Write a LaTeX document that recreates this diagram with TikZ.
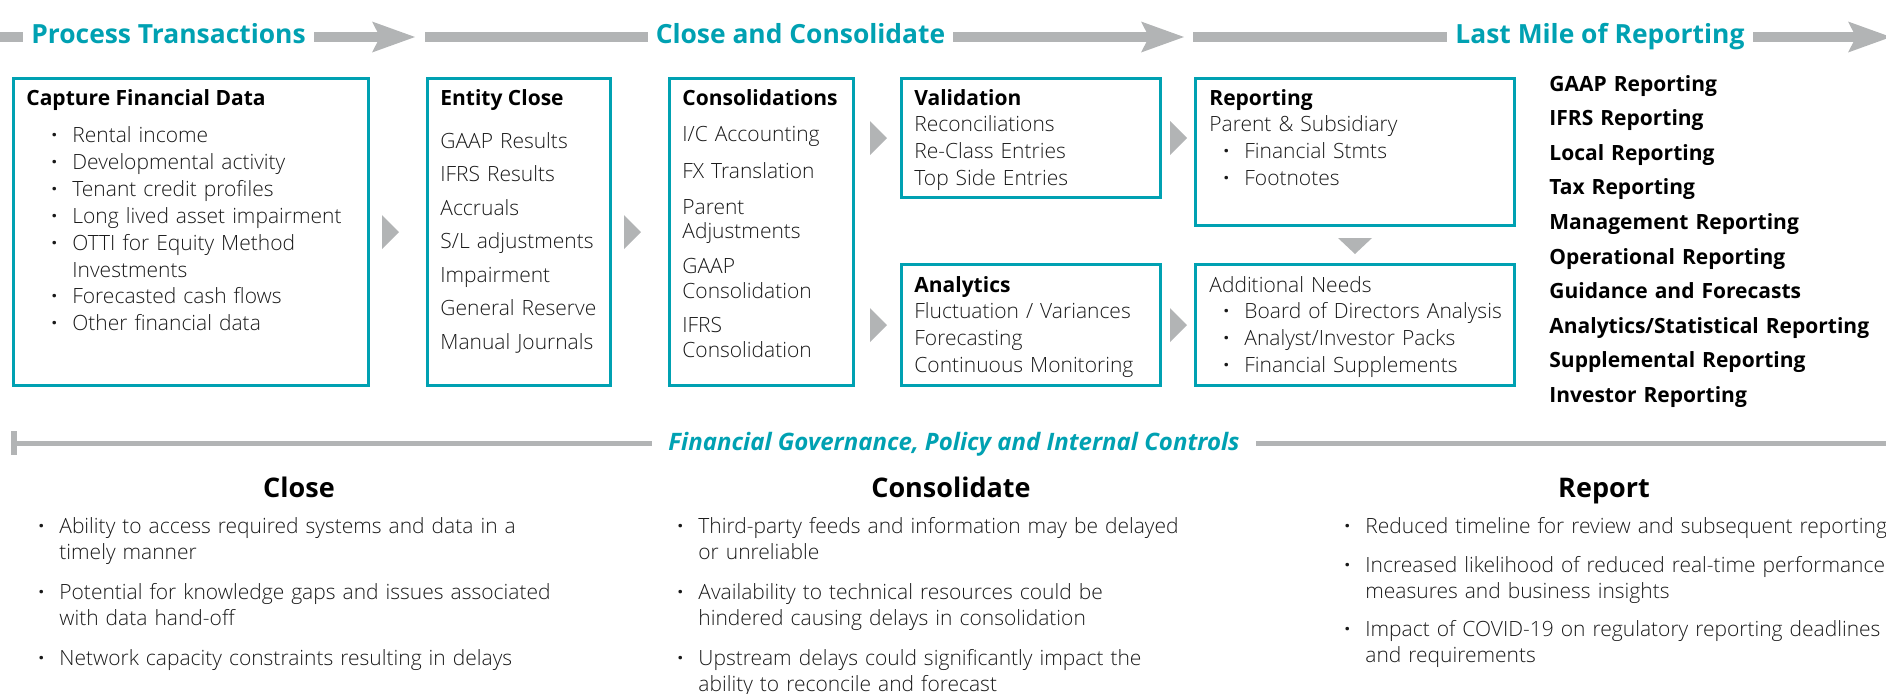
\documentclass[tikz,border=0pt]{standalone}
\usepackage{fontspec}
\setmainfont{Open Sans}
\IfFontExistsTF{Open Sans Light}{\newfontfamily\lightfont{Open Sans Light}}{\newfontfamily\lightfont{Open Sans}}
\newfontfamily\dotfont{Open Sans}
\usetikzlibrary{calc}
\definecolor{dteal}{RGB}{0,161,178}
\definecolor{bargray}{RGB}{178,180,181}
\definecolor{ink}{RGB}{25,25,25}
\newcommand{\bul}{\makebox[10.5pt][l]{\dotfont\bfseries ·}}
\newcommand{\boxhead}[1]{{\normalfont\bfseries\color{black}#1}}
\tikzset{
stage/.style={font=\bfseries\fontsize{13.2}{15}\selectfont,text=dteal,fill=white,inner xsep=4pt,inner ysep=2pt,anchor=base},
band/.style={bargray,line width=5pt},
chev/.style={fill=bargray},
panel/.style={draw=dteal,line width=1.5pt,inner sep=0pt},
txt/.style={font=\lightfont\fontsize{10.5}{13.45}\selectfont,text=ink,anchor=base west,inner sep=0pt,align=left,text width=300pt},
ttl/.style={font=\bfseries\fontsize{10.5}{13.4}\selectfont,anchor=base west,inner sep=0pt},
outlist/.style={font=\bfseries\fontsize{10.5}{17.3}\selectfont,anchor=base west,inner sep=0pt,align=left,text width=200pt},
govline/.style={bargray,line width=2.5pt},
govtick/.style={bargray,line width=3pt},
govern/.style={font=\bfseries\itshape\fontsize{12}{14}\selectfont,text=dteal,fill=white,inner xsep=8pt,anchor=base},
colhead/.style={font=\bfseries\fontsize{13.5}{16}\selectfont,anchor=base},
risk/.style={font=\lightfont\fontsize{10.5}{13}\selectfont,text=ink,anchor=base west,inner sep=0pt,align=left,text width=300pt}
}
\begin{document}
\begin{tikzpicture}[x=0.5pt,y=-0.5pt]
\useasboundingbox (0,0) rectangle (1886,693);
\draw[band] (0,37) -- (380,37);
\fill[chev] (372,21.5) -- (415,37) -- (372,52.5) -- (380,37) -- cycle;
\node[stage] (process) at (168.5,43) {Process Transactions};
\draw[band] (425,37) -- (1149,37);
\fill[chev] (1141,21.5) -- (1184,37) -- (1141,52.5) -- (1149,37) -- cycle;
\node[stage] (closecon) at (800.5,43) {Close and Consolidate};
\draw[band] (1193,37) -- (1856,37);
\fill[chev] (1848,21.5) -- (1891,37) -- (1848,52.5) -- (1856,37) -- cycle;
\node[stage] (lastmile) at (1600,43) {Last Mile of Reporting};
\node[panel,minimum width=177.5pt,minimum height=153.5pt] (capture) at (191,232) {};
\node[panel,minimum width=91.5pt,minimum height=153.5pt] (entity) at (519,232) {};
\node[panel,minimum width=92pt,minimum height=153.5pt] (consol) at (761.5,232) {};
\node[panel,minimum width=129.5pt,minimum height=59.5pt] (valid) at (1031,138) {};
\node[panel,minimum width=129.5pt,minimum height=60.5pt] (analyt) at (1031,325) {};
\node[panel,minimum width=159.5pt,minimum height=73.5pt] (report) at (1355,152) {};
\node[panel,minimum width=159.5pt,minimum height=60.5pt] (addneed) at (1355,325) {};
\fill[chev] ($(capture.east)+(12,-17)$) -- ++(17,17) -- ++(-17,17) -- cycle;
\fill[chev] ($(entity.east)+(12,-17)$) -- ++(17,17) -- ++(-17,17) -- cycle;
\fill[chev] ($(consol.east |- valid.west)+(15,-17)$) -- ++(17,17) -- ++(-17,17) -- cycle;
\fill[chev] ($(consol.east |- analyt.west)+(15,-17)$) -- ++(17,17) -- ++(-17,17) -- cycle;
\fill[chev] ($(valid.east)+(8,-17)$) -- ++(17,17) -- ++(-17,17) -- cycle;
\fill[chev] ($(analyt.east)+(8,-17)$) -- ++(17,17) -- ++(-17,17) -- cycle;
\fill[chev] ($(report.south)+(-17,11)$) -- ++(34,0) -- ++(-17,16) -- cycle;
\node[ttl] (capturettl) at (26,105) {Capture Financial Data};
\node[txt] (capturetxt) at (51,142.5) {\bul Rental income\\ \bul Developmental activity\\ \bul Tenant credit profiles\\ \bul Long lived asset impairment\\ \bul OTTI for Equity Method\\ \hspace*{10.5pt}Investments\\ \bul Forecasted cash flows\\ \bul Other financial data};
\node[ttl] (entityttl) at (440,105) {Entity Close};
\node[txt,font=\lightfont\fontsize{10.5}{16.75}\selectfont] (entitytxt) at (440,148) {GAAP Results\\ IFRS Results\\ Accruals\\ S/L adjustments\\ Impairment\\ General Reserve\\ Manual Journals};
\node[ttl] (consolttl) at (682,105) {Consolidations};
\node[txt,font=\lightfont\fontsize{10.5}{12.4}\selectfont] (consoltxt) at (682,141.5) {I/C Accounting\\[6pt] FX Translation\\[5.5pt] Parent\\ Adjustments\\[4.8pt] GAAP\\ Consolidation\\[4.8pt] IFRS\\ Consolidation};
\node[txt] (validtxt) at (914,105) {\boxhead{Validation}\\ Reconciliations\\ Re-Class Entries\\ Top Side Entries};
\node[txt] (analyttxt) at (914,292) {\boxhead{Analytics}\\ Fluctuation / Variances\\ Forecasting\\ Continuous Monitoring};
\node[txt] (reporttxt) at (1209,105) {\boxhead{Reporting}\\ Parent \& Subsidiary\\ \hspace*{7pt}\bul Financial Stmts\\ \hspace*{7pt}\bul Footnotes};
\node[txt] (addneedtxt) at (1209,292) {Additional Needs\\ \hspace*{7pt}\bul Board of Directors Analysis\\ \hspace*{7pt}\bul Analyst/Investor Packs\\ \hspace*{7pt}\bul Financial Supplements};
\node[outlist] (outputs) at (1549,91) {GAAP Reporting\\ IFRS Reporting\\ Local Reporting\\ Tax Reporting\\ Management Reporting\\ Operational Reporting\\ Guidance and Forecasts\\ Analytics/Statistical Reporting\\ Supplemental Reporting\\ Investor Reporting};
\draw[govline] (14,443.5) -- (1886,443.5);
\draw[govtick] (14,431) -- (14,455);
\node[govern] (gov) at (954,450) {Financial Governance, Policy and Internal Controls};
\node[colhead] (closehead) at (299,497) {Close};
\node[colhead] (consolhead) at (951,497) {Consolidate};
\node[colhead] (reporthead) at (1604,497) {Report};
\node[risk] (closerisk) at (38,533) {\bul Ability to access required systems and data in a\\ \hspace*{10.5pt}timely manner\\[7pt] \bul Potential for knowledge gaps and issues associated\\ \hspace*{10.5pt}with data hand-off\\[7pt] \bul Network capacity constraints resulting in delays};
\node[risk] (consolrisk) at (677,533) {\bul Third-party feeds and information may be delayed\\ \hspace*{10.5pt}or unreliable\\[7pt] \bul Availability to technical resources could be\\ \hspace*{10.5pt}hindered causing delays in consolidation\\[7pt] \bul Upstream delays could significantly impact the\\ \hspace*{10.5pt}ability to reconcile and forecast};
\node[risk] (reportrisk) at (1344,533) {\bul Reduced timeline for review and subsequent reporting\\[6.5pt] \bul Increased likelihood of reduced real-time performance\\ \hspace*{10.5pt}measures and business insights\\[6pt] \bul Impact of COVID-19 on regulatory reporting deadlines\\ \hspace*{10.5pt}and requirements};
\end{tikzpicture}
\end{document}
